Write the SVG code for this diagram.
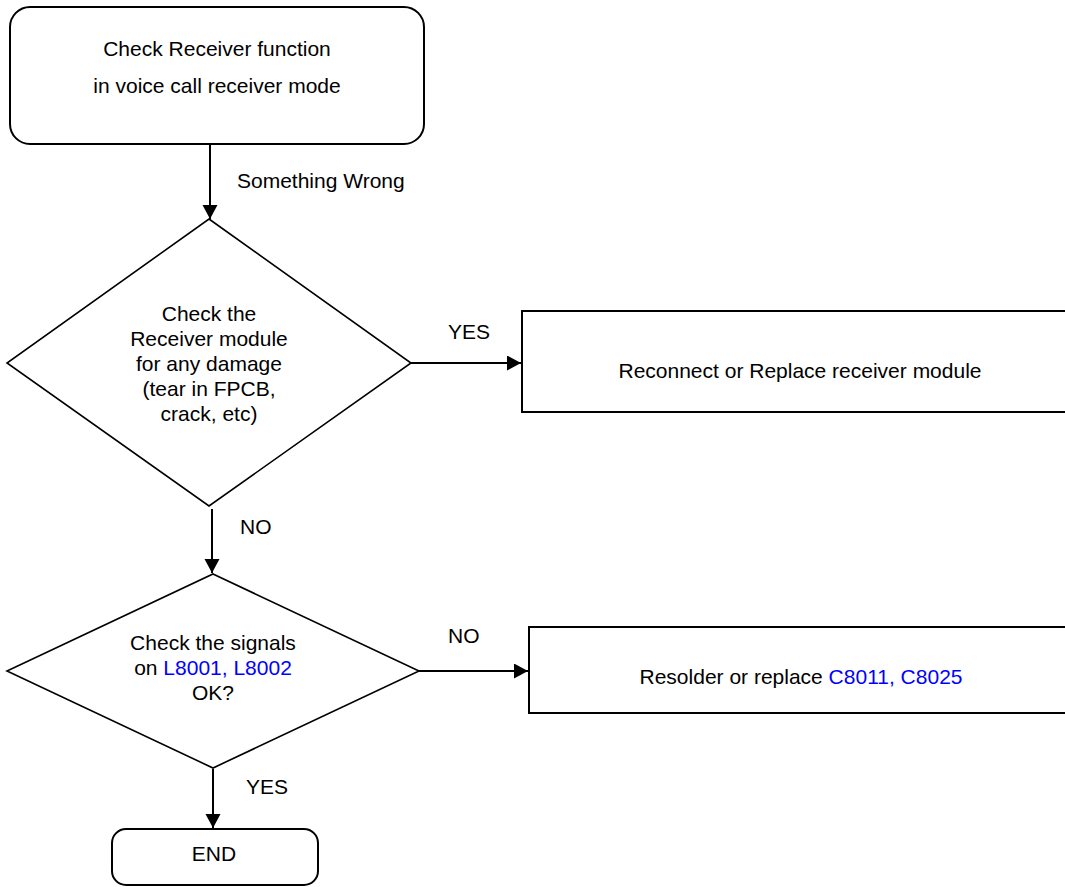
<svg xmlns="http://www.w3.org/2000/svg" width="1065" height="887" viewBox="0 0 1065 887">
<style>
  .shape { fill: #ffffff; stroke: #000000; stroke-width: 2; }
  .dia { fill: #ffffff; stroke: #000000; stroke-width: 1.6; }
  .t { font-family: "Liberation Sans", Arial, sans-serif; font-size: 21px; fill: #000000; }
  .c { text-anchor: middle; }
  .blue { fill: #0000ff; }
  .conn { stroke: #000000; stroke-width: 2; fill: none; marker-end: url(#arrow); }
</style>
<defs>
  <marker id="arrow" markerUnits="userSpaceOnUse" markerWidth="15" markerHeight="16" refX="14" refY="7.5" orient="auto">
    <path d="M0,0 L14,7.5 L0,15 z" fill="#000000"/>
  </marker>
</defs>
<rect width="1065" height="887" fill="#ffffff"/>

<g id="start">
  <rect class="shape" x="10" y="7" width="414" height="137" rx="20" ry="20"/>
  <text class="t c" x="217" y="56">Check Receiver function</text>
  <text class="t c" x="217" y="93">in voice call receiver mode</text>
</g>

<g id="decision1">
  <polygon class="dia" points="209,219 411,363 209,506 7,363"/>
  <text class="t c" x="209" y="321">Check the</text>
  <text class="t c" x="209" y="346">Receiver module</text>
  <text class="t c" x="209" y="371">for any damage</text>
  <text class="t c" x="209" y="396">(tear in FPCB,</text>
  <text class="t c" x="209" y="421">crack, etc)</text>
</g>

<g id="replace">
  <rect class="shape" x="522" y="311" width="560" height="101"/>
  <text class="t c" x="800" y="378">Reconnect or Replace receiver module</text>
</g>

<g id="decision2">
  <polygon class="dia" points="213,574 419,671 213,768 7,671"/>
  <text class="t c" x="213" y="650">Check the signals</text>
  <text class="t c" x="213" y="675">on <tspan class="blue">L8001, L8002</tspan></text>
  <text class="t c" x="213" y="700">OK?</text>
</g>

<g id="resolder">
  <rect class="shape" x="529" y="627" width="560" height="86"/>
  <text class="t c" x="801" y="684">Resolder or replace <tspan class="blue">C8011, C8025</tspan></text>
</g>

<g id="end">
  <rect class="shape" x="112" y="829" width="206" height="56" rx="14" ry="14"/>
  <text class="t c" x="214" y="861">END</text>
</g>

<g id="connectors">
  <line class="conn" x1="210" y1="144" x2="210" y2="219"/>
  <line class="conn" x1="411" y1="363" x2="521" y2="363"/>
  <line class="conn" x1="212" y1="509" x2="212" y2="573"/>
  <line class="conn" x1="419" y1="671" x2="528" y2="671"/>
  <line class="conn" x1="213" y1="769" x2="213" y2="828"/>
</g>

<g id="labels">
  <text class="t" x="237" y="188">Something Wrong</text>
  <text class="t" x="448" y="339">YES</text>
  <text class="t" x="240" y="534">NO</text>
  <text class="t" x="448" y="643">NO</text>
  <text class="t" x="246" y="794">YES</text>
</g>
</svg>
